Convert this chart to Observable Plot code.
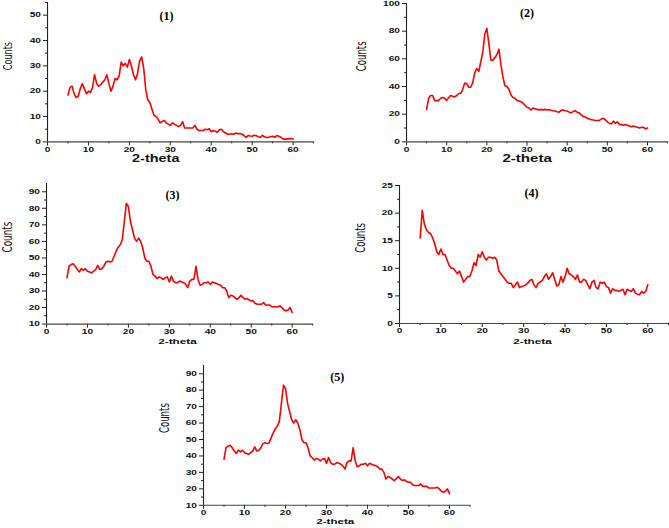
<!DOCTYPE html>
<html><head><meta charset="utf-8">
<script src="https://cdn.jsdelivr.net/npm/d3@7"></script>
<script src="https://cdn.jsdelivr.net/npm/@observablehq/plot@0.6"></script>
<style>
body{margin:0;background:#fff;}
#root{position:relative;width:669px;height:528px;overflow:hidden;background:#fff;}
#root svg{position:absolute;}
</style></head><body><div id="root"></div>
<script>
// 2-theta sampling grid (degrees)
const thetaGrid = [5,5.5,6,6.5,7,7.5,8,8.5,9,9.5,10,10.5,11,11.5,12,12.5,13,13.5,14,14.5,15,15.5,16,16.5,17,17.5,18,18.5,19,19.5,20,20.5,21,21.5,22,22.5,23,23.5,24,24.5,25,25.5,26,26.5,27,27.5,28,28.5,29,29.5,30,30.5,31,31.5,32,32.5,33,33.5,34,34.5,35,35.5,36,36.5,37,37.5,38,38.5,39,39.5,40,40.5,41,41.5,42,42.5,43,43.5,44,44.5,45,45.5,46,46.5,47,47.5,48,48.5,49,49.5,50,50.5,51,51.5,52,52.5,53,53.5,54,54.5,55,55.5,56,56.5,57,57.5,58,58.5,59,59.5,60];

const counts1 = [18.5,21.5,22,19,17.5,18,21,23,21,19, 20,19.5,21.5,26.5,23,22,22.5,23.5,24.5,26.5, 23,20,22,25,24.5,26,31.5,30,31,29.5, 32.5,30,26.5,24.5,27,32,33.5,29,20.5,16.5, 15.5,13,10.5,10,9,7.5,8,8.5,7.5,7, 6.5,7.5,7,6.5,6,6.5,8,5.5,5.5,5.5, 5.5,5.5,6.5,5,4.5,4.5,4.5,5,4.8,5.2, 4,4.5,4.2,3.8,4.8,5,4,3.5,3,3, 3.2,3,3.5,3.2,3.3,3,2.5,1.8,2.5,2.3, 2.2,2.6,2.4,2,1.8,2.6,2,1.7,1.8,2, 2.2,1.8,2.5,2.2,1.8,1.2,1,1.2,1.3,1.3, 1.2];

const counts2 = [23.5,31.5,33.5,33.5,30,29.5,30,31.5,32,31.5, 30,32,33.5,33,32.5,33.5,35,35,38,42.5, 42,39.5,39.5,43,50,53,51,58,65,78, 82,71,59,59,61,63,67,56,47,40.5, 40,38,34,32,31.5,30,29.5,29,28,26.5, 25,24.5,23,24.5,24,23.5,23,23.5,23,23.5, 23,23.2,22.8,22.5,22.3,21.8,21.5,22.8,23,22.5, 22.3,21.5,21,22,22.5,21.5,21,19.5,18.5,18, 17,16.5,16,15.8,15.5,15.5,15.5,16.5,17,16, 14.5,13.5,13,15,13.5,14.5,12.5,12.5,12,12.5, 12,11.5,11,11.5,11,10.5,10,10.5,10.5,9.5, 10];

const counts3 = [38,45,46,46.5,45,43,41.5,43.5,42.5,43.5, 42,41.5,41,42,43,45.5,43,43.5,45,47.5, 48,47.5,48,51,54,56.5,58,61,72,83, 81,72,67,62,60,62,60,56,50,48, 48,45,40,39,37.5,38.5,38,37,38,38.5, 35.5,39,36,35,35,36,35.5,35,34,32, 36,37,37,45,37,33.5,34,35,35,35.5, 34,35.5,35,34.5,34,33.5,32,32,30,26, 27.5,27,26,25,26,27.5,26,25,25.5,24.5, 24,24,22.5,22,22,22,23,21.5,21.5,21.5, 20.5,20.5,20.5,20.5,21,20,18.5,18,18.5,20, 17];

const counts4 = [15.5,20.5,18,17,16.5,16.3,15.5,14.5,13,12.5, 13.5,12.5,12.5,11.5,10.5,10,10,9.5,9,9.5, 8.5,7.5,8,8.5,8.5,9.5,11,10.5,12.5,12, 13,12,11.5,12,12,11.8,12,11.5,9.5,9, 8.5,8,7.5,7.3,7.3,6.5,7,7.5,6.5,6.7, 6.8,7,7.3,7.8,8,7,6.5,7.3,7.5,7.8, 8.5,9,8,8.5,9.2,8,6.8,7,8.5,7.5, 8.5,10,9,8.8,8.5,8,8.8,7.5,7.5,8, 7.8,7,6.3,7.5,7.8,6.5,6.3,7.5,7.3,7.5, 6.7,6.5,5.5,6.3,6,6,5.8,6,6.2,5.2, 6.2,6,5.8,6.3,5.5,5.3,5.2,5.8,5.5,5.8, 7];

// sample (5) is the same pattern as sample (3)
const counts5 = counts3;

const titles = ["(1)", "(2)", "(3)", "(4)", "(5)"];
const xMajor = [0,10,20,30,40,50,60];
const xMinor = [5,15,25,35,45,55,65];
const yMajor1 = [0,10,20,30,40,50], yMinor1 = [5,15,25,35,45,55];
const yMajor2 = [0,20,40,60,80,100], yMinor2 = [10,30,50,70,90];
const yMajor3 = [10,20,30,40,50,60,70,80,90], yMinor3 = [15,25,35,45,55,65,75,85];
const yMajor4 = [0,5,10,15,20,25], yMinor4 = [2.5,7.5,12.5,17.5,22.5];
const xLabel = "2-theta", yLabel = "Counts";

// layout (page pixels of the frame) and text offsets / sizes
const layout = [
  {counts: counts1, yDomain: [0,55],  yMajor: yMajor1, yMinor: yMinor1, x0: 46.7, x1: 312.8, yT: 2.3,   yB: 141.7, tdx: -14,  tdy: 8.7, xdx: -24.8, xdy: 20.3, xfs: 10,   cdx: -40,   cdy: -2,   cfs: 9},
  {counts: counts2, yDomain: [0,100], yMajor: yMajor2, yMinor: yMinor2, x0: 406.3, x1: 667.4, yT: 3.3, yB: 141.7, tdx: -10,  tdy: 5,   xdx: -9.9,  xdy: 20.3, xfs: 10.4, cdx: -44.6, cdy: -1.5, cfs: 9.5},
  {counts: counts3, yDomain: [10,95], yMajor: yMajor3, yMinor: yMinor3, x0: 46,   x1: 312.2, yT: 182.7, yB: 323.3, tdx: -7,   tdy: 7.3, xdx: -2.1,  xdy: 19.7, xfs: 8.1,  cdx: -39.3, cdy: -1.3, cfs: 9.8},
  {counts: counts4, yDomain: [0,25],  yMajor: yMajor4, yMinor: yMinor4, x0: 399,  x1: 668,   yT: 184.7, yB: 322.7, tdx: -2.5, tdy: 3.3, xdx: -1.5,  xdy: 20.3, xfs: 8.1,  cdx: -39,   cdy: -1.7, cfs: 9.5},
  {counts: counts5, yDomain: [10,95], yMajor: yMajor3, yMinor: yMinor3, x0: 203.3, x1: 469.8, yT: 364.5, yB: 504.3, tdx: 0.5, tdy: 6.5, xdx: -1.5,  xdy: 19,   xfs: 8,    cdx: -38.8, cdy: -2.4, cfs: 9.5}
];

const root = document.getElementById("root");
const K = 1.45; // horizontal stretch of the original artwork's lettering
const axisColor = "#222";

function stretchText(t, sx, sy) {
  let tr = t.getAttribute("transform") || "";
  if (!/translate/.test(tr)) {
    const xs = t.getAttribute("x") || "", ys = t.getAttribute("y") || "";
    const tx = (xs && !/em/.test(xs)) ? parseFloat(xs) : 0;
    const ty = (ys && !/em/.test(ys)) ? parseFloat(ys) : 0;
    if (xs && !/em/.test(xs)) t.removeAttribute("x");
    if (ys && !/em/.test(ys)) t.removeAttribute("y");
    tr = `translate(${tx},${ty}) ` + tr;
  }
  t.setAttribute("transform", tr + ` scale(${sx},${sy})`);
}

layout.forEach((p, i) => {
  const data = thetaGrid.map((t, j) => ({theta: t, count: p.counts[j]}));
  const svg = Plot.plot({
    width: p.x1 - p.x0,
    height: p.yB - p.yT,
    margin: 0,
    x: {domain: [0, 65]},
    y: {domain: p.yDomain},
    style: {background: "transparent", overflow: "visible", fontFamily: "'Liberation Sans', Arial, sans-serif"},
    marks: [
      Plot.axisY({ticks: p.yMinor, tickSize: 2, tickFormat: () => "", label: null, stroke: axisColor}),
      Plot.axisY({ticks: p.yMajor, tickSize: 4, tickPadding: 2.5, label: null, stroke: axisColor, fill: "#111", fontSize: 7, fontWeight: "bold"}),
      Plot.axisX({ticks: xMinor, tickSize: 2, tickFormat: () => "", label: null, stroke: axisColor}),
      Plot.axisX({ticks: xMajor, tickSize: 4, tickPadding: 1, label: null, stroke: axisColor, fill: "#111", fontSize: 7, fontWeight: "bold"}),
      Plot.ruleX([0], {stroke: axisColor, strokeWidth: 1.1}),
      Plot.ruleY([p.yDomain[0]], {stroke: "#444", strokeWidth: 1.1}),
      Plot.lineY(data, {x: "theta", y: "count", stroke: "#ff0000", strokeWidth: 1.6}),
      Plot.text([xLabel], {text: d => d, frameAnchor: "bottom", dx: p.xdx, dy: p.xdy, fontWeight: "bold", fontSize: p.xfs, fill: "#111"}),
      Plot.text([yLabel], {text: d => d, frameAnchor: "left", rotate: -90, dx: p.cdx, dy: p.cdy, fontSize: p.cfs, fontFamily: "'Liberation Sans Narrow', 'DejaVu Sans Condensed', sans-serif", fill: "#111"}),
      Plot.text([titles[i]], {text: d => d, frameAnchor: "top", dx: p.tdx, dy: p.tdy, fontSize: 12, fontWeight: "bold", fontFamily: "'Liberation Serif', 'Times New Roman', serif", fill: "#000"})
    ]
  });
  svg.style.left = p.x0 + "px";
  svg.style.top = p.yT + "px";
  // widen lettering like the horizontally stretched original
  svg.querySelectorAll("text").forEach(t => {
    const s = (t.textContent || "").trim();
    const tr = t.getAttribute("transform") || "";
    if (s === yLabel || /rotate/.test(tr)) stretchText(t, 1, K);
    else if (s === xLabel || /^\d+(\.\d+)?$/.test(s)) stretchText(t, K, 1);
  });
  root.appendChild(svg);
});
</script></body></html>
